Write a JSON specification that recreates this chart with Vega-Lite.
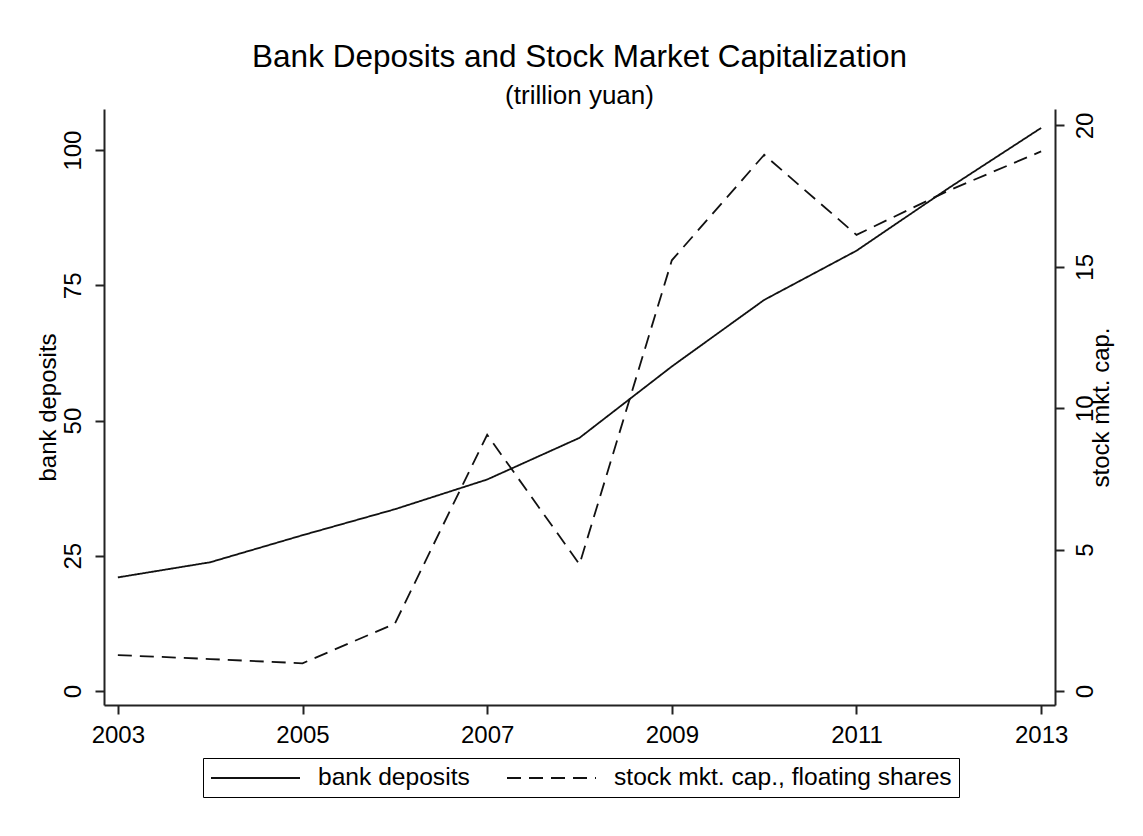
{
  "$schema": "https://vega.github.io/schema/vega-lite/v6.json",
  "width": 951,
  "height": 596,
  "autosize": {"type": "none"},
  "padding": {"left": 104, "top": 109, "right": 88, "bottom": 131},
  "background": "white",
  "title": {
    "text": "Bank Deposits and Stock Market Capitalization",
    "subtitle": "(trillion yuan)",
    "anchor": "middle",
    "frame": "group",
    "font": "Liberation Sans",
    "fontSize": 31.5,
    "fontWeight": "normal",
    "color": "#000",
    "subtitleFont": "Liberation Sans",
    "subtitleFontSize": 26,
    "subtitleColor": "#000",
    "subtitlePadding": 10,
    "offset": 0
  },
  "data": {
    "values": [
      {"year": 2003, "deposits": 21.0, "stock": 1.27},
      {"year": 2004, "deposits": 23.8, "stock": 1.13},
      {"year": 2005, "deposits": 28.8, "stock": 0.98},
      {"year": 2006, "deposits": 33.6, "stock": 2.38},
      {"year": 2007, "deposits": 39.1, "stock": 9.06},
      {"year": 2008, "deposits": 46.8, "stock": 4.48},
      {"year": 2009, "deposits": 60.0, "stock": 15.23},
      {"year": 2010, "deposits": 72.3, "stock": 18.96},
      {"year": 2011, "deposits": 81.4, "stock": 16.13},
      {"year": 2012, "deposits": 93.0, "stock": 17.7},
      {"year": 2013, "deposits": 104.1, "stock": 19.08}
    ]
  },
  "layer": [
    {
      "mark": {"type": "line", "color": "#111", "strokeWidth": 1.8},
      "encoding": {
        "x": {
          "field": "year", "type": "quantitative",
          "scale": {"domain": [2002.85, 2013.15], "nice": false, "zero": false},
          "axis": {"values": [2003, 2005, 2007, 2009, 2011, 2013], "format": "d", "title": null, "labelPadding": 9}
        },
        "y": {
          "field": "deposits", "type": "quantitative",
          "scale": {"domain": [-2.59, 107.6], "nice": false, "zero": false},
          "axis": {"orient": "left", "values": [0, 25, 50, 75, 100], "labelAngle": -90, "title": "bank deposits", "labelPadding": 10, "titlePadding": 1}
        },
        "strokeDash": {
          "datum": "bank deposits",
          "scale": {"domain": ["bank deposits", "stock mkt. cap., floating shares"], "range": [[1, 0], [14, 8]]},
          "legend": {
            "title": null,
            "orient": "none",
            "legendX": 99,
            "legendY": 649,
            "direction": "horizontal",
            "strokeColor": "#000",
            "padding": 7,
            "symbolType": "M-4,0H4",
            "symbolSize": 495,
            "symbolOffset": 33,
            "symbolStrokeWidth": 2,
            "symbolStrokeColor": "#111",
            "labelFont": "Liberation Sans",
            "labelFontSize": 24.6,
            "labelColor": "#000",
            "labelOffset": 50,
            "columnPadding": 33,
            "labelLimit": 600
          }
        }
      }
    },
    {
      "mark": {"type": "line", "color": "#111", "strokeWidth": 1.8},
      "encoding": {
        "x": {"field": "year", "type": "quantitative"},
        "y": {
          "field": "stock", "type": "quantitative",
          "scale": {"domain": [-0.495, 20.58], "nice": false, "zero": false},
          "axis": {"orient": "right", "values": [0, 5, 10, 15, 20], "labelAngle": -90, "labelAlign": "center", "labelBaseline": "top", "title": "stock mkt. cap.", "titleAngle": -90, "labelPadding": 9, "titlePadding": 16}
        },
        "strokeDash": {"datum": "stock mkt. cap., floating shares"}
      }
    }
  ],
  "resolve": {"scale": {"y": "independent"}},
  "config": {
    "view": {"stroke": null},
    "axis": {
      "grid": false,
      "domainColor": "#222",
      "domainWidth": 2,
      "tickColor": "#222",
      "tickWidth": 2,
      "tickSize": 9,
      "labelFont": "Liberation Sans",
      "labelFontSize": 24,
      "labelColor": "#000",
      "titleFont": "Liberation Sans",
      "titleFontSize": 24,
      "titleFontWeight": "normal",
      "titleColor": "#000"
    }
  }
}
